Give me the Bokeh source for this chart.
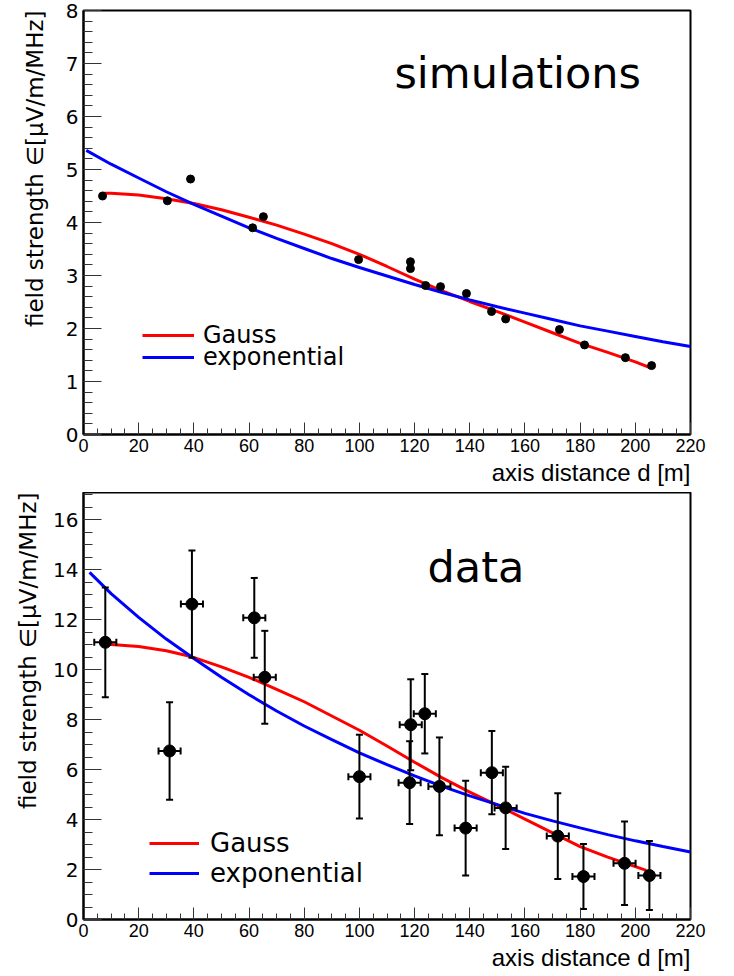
import numpy as np
from bokeh.plotting import figure
from bokeh.layouts import column
from bokeh.models import (ColumnDataSource, SingleIntervalTicker, Label, Legend, LegendItem,
                          Whisker, TeeHead, Range1d, Title)
from bokeh.embed import file_html
from bokeh.resources import INLINE

# ---------------- data: simulations ----------------
sim_d = [6.9, 30.4, 38.8, 61.3, 65.2, 99.7, 118.5, 118.5, 124.0, 129.4, 138.8, 147.9, 153.0, 172.5, 181.6, 196.4, 205.9]
sim_E = [4.50, 4.41, 4.82, 3.90, 4.11, 3.30, 3.26, 3.13, 2.81, 2.79, 2.66, 2.32, 2.18, 1.98, 1.69, 1.45, 1.30]

sim_gauss_d = [6.9, 10, 20, 30, 40, 50, 60, 70, 80, 90, 100, 110, 120, 130, 140, 150, 160, 170, 180, 190, 200, 205.9]
sim_gauss_E = [4.55, 4.55, 4.52, 4.45, 4.36, 4.24, 4.10, 3.95, 3.78, 3.60, 3.40, 3.17, 2.93, 2.71, 2.51, 2.32, 2.12, 1.92, 1.72, 1.55, 1.37, 1.25]

sim_exp_d = [1.0, 10, 20, 30, 40, 50, 60, 70, 80, 90, 100, 110, 120, 130, 140, 150, 160, 170, 180, 190, 200, 210, 220]
sim_exp_E = [5.36, 5.10, 4.84, 4.58, 4.34, 4.12, 3.90, 3.70, 3.51, 3.32, 3.15, 2.99, 2.83, 2.68, 2.54, 2.41, 2.29, 2.17, 2.05, 1.95, 1.85, 1.75, 1.66]

# ---------------- data: measurements ----------------
data_d = [7.9, 31.2, 39.3, 61.9, 65.7, 100.0, 118.6, 118.2, 123.7, 129.0, 138.5, 148.0, 153.0, 171.9, 181.2, 196.1, 205.1]
data_E = [11.10, 6.75, 12.63, 12.08, 9.70, 5.72, 7.80, 5.48, 8.24, 5.33, 3.66, 5.88, 4.47, 3.34, 1.72, 2.25, 1.76]
data_Eerr = [2.2, 1.95, 2.15, 1.6, 1.86, 1.68, 1.82, 1.66, 1.59, 1.96, 1.9, 1.67, 1.65, 1.72, 1.3, 1.67, 1.38]
data_derr = [4.0] * 17

data_gauss_d = [7.5, 10, 20, 30, 39.3, 50, 60, 70, 80, 90, 100, 110, 120, 130, 140, 150, 160, 170, 180, 190, 200, 204]
data_gauss_E = [11.02, 11.01, 10.93, 10.76, 10.52, 10.12, 9.70, 9.22, 8.72, 8.15, 7.58, 6.95, 6.30, 5.67, 5.10, 4.57, 4.02, 3.47, 2.92, 2.50, 2.12, 1.97]

data_exp_d = [2.2, 10, 20, 30, 40, 50, 60, 70, 80, 90, 100, 110, 120, 130, 140, 150, 160, 170, 180, 190, 200, 210, 220]
data_exp_E = [13.9, 13.05, 12.1, 11.23, 10.45, 9.7, 9.0, 8.35, 7.75, 7.2, 6.67, 6.2, 5.75, 5.33, 4.95, 4.6, 4.25, 3.95, 3.67, 3.4, 3.15, 2.92, 2.7]

x_label = "axis distance d [m]"
y_label = "field strength \u2208[\u00b5V/m/MHz]"

FONT = "DejaVu Sans"
NARROW = "Liberation Sans"


def make_panel(ymax, y_interval, y_minor, frame_h, top_border, bottom_border, ylab_standoff,
               title, title_x, title_y):
    p = figure(output_backend="svg", toolbar_location=None,
               frame_width=607, frame_height=frame_h,
               x_range=Range1d(0, 220), y_range=Range1d(0, ymax),
               min_border_left=83, min_border_right=20, min_border_top=top_border,
               min_border_bottom=bottom_border)
    p.background_fill_color = "white"
    p.border_fill_color = "white"
    p.outline_line_color = "black"
    p.outline_line_width = 2
    p.xgrid.visible = False
    p.ygrid.visible = False

    p.xaxis.ticker = SingleIntervalTicker(interval=20, num_minor_ticks=4)
    p.yaxis.ticker = SingleIntervalTicker(interval=y_interval, num_minor_ticks=y_minor)
    for ax in (p.xaxis[0], p.yaxis[0]):
        ax.axis_line_color = "black"
        ax.axis_line_width = 2
        ax.major_tick_out = 0
        ax.minor_tick_out = 0
        ax.major_tick_line_width = 1
        ax.minor_tick_line_width = 1
        ax.major_tick_line_color = "#333333"
        ax.minor_tick_line_color = "#333333"
        ax.major_label_text_color = "black"
    p.yaxis.major_tick_in = 18
    p.yaxis.minor_tick_in = 9
    p.xaxis.major_tick_in = 12
    p.xaxis.minor_tick_in = 6
    p.yaxis.major_label_text_font = FONT
    p.yaxis.major_label_text_font_size = "20px"
    p.yaxis.major_label_standoff = 5
    p.xaxis.major_label_text_font = NARROW
    p.xaxis.major_label_text_font_size = "18px"
    p.xaxis.major_label_standoff = 4

    p.add_layout(Title(text=x_label, align="right", text_font=NARROW, text_font_size="24px",
                       text_font_style="normal", text_color="black", standoff=5, offset=0), "below")
    p.add_layout(Title(text=y_label, align="right", text_font=FONT, text_font_size="23px",
                       text_font_style="normal", text_color="black", standoff=ylab_standoff,
                       offset=0), "left")
    p.add_layout(Label(x=title_x, y=title_y, text=title, text_align="left", text_baseline="alphabetic",
                       text_font=FONT, text_font_size="43px", text_color="black"))
    return p


def add_legend_row(p, label, renderer, x, y, glyph_w, standoff, size):
    leg = Legend(items=[LegendItem(label=label, renderers=[renderer])],
                 location=(x, y), border_line_alpha=0, background_fill_alpha=0,
                 padding=0, margin=0, spacing=0, glyph_width=glyph_w, glyph_height=30,
                 label_height=30, label_standoff=standoff, label_text_font=FONT,
                 label_text_font_size=size, label_text_color="black")
    p.add_layout(leg)


# ---------------- top panel ----------------
p1 = make_panel(8, 1, 5, 424, 10, 58, 29, "simulations", 112.7, 6.83)
r_g1 = p1.line(sim_gauss_d, sim_gauss_E, line_color="#ff0000", line_width=3)
r_e1 = p1.line(sim_exp_d, sim_exp_E, line_color="#0000ff", line_width=3)
p1.scatter(sim_d, sim_E, size=8, color="black")
add_legend_row(p1, "Gauss", r_g1, 59, 84, 52, 9, "24px")
add_legend_row(p1, "exponential", r_e1, 59, 62, 52, 9, "24px")

# ---------------- bottom panel ----------------
p2 = make_panel(17.1, 2, 4, 427, 0, 56, 20, "data", 124.7, 14.11)
r_g2 = p2.line(data_gauss_d, data_gauss_E, line_color="#ff0000", line_width=3)
r_e2 = p2.line(data_exp_d, data_exp_E, line_color="#0000ff", line_width=3)

src = ColumnDataSource(dict(
    d=data_d, E=data_E,
    up=[e + s for e, s in zip(data_E, data_Eerr)],
    lo=[e - s for e, s in zip(data_E, data_Eerr)],
    dl=[d - s for d, s in zip(data_d, data_derr)],
    dr=[d + s for d, s in zip(data_d, data_derr)],
))
for dim, base, up, lo in (("height", "d", "up", "lo"), ("width", "E", "dr", "dl")):
    p2.add_layout(Whisker(source=src, base=base, upper=up, lower=lo, dimension=dim,
                          line_color="black", line_width=2, level="glyph",
                          upper_head=TeeHead(size=7, line_width=2, line_color="black"),
                          lower_head=TeeHead(size=7, line_width=2, line_color="black")))
p2.scatter("d", "E", source=src, size=12, color="black")
add_legend_row(p2, "Gauss", r_g2, 66, 61, 50, 11, "26px")
add_legend_row(p2, "exponential", r_e2, 66, 31, 50, 11, "26px")

layout = column(p1, p2, spacing=0)
open("out.html", "w").write(file_html(layout, INLINE))
